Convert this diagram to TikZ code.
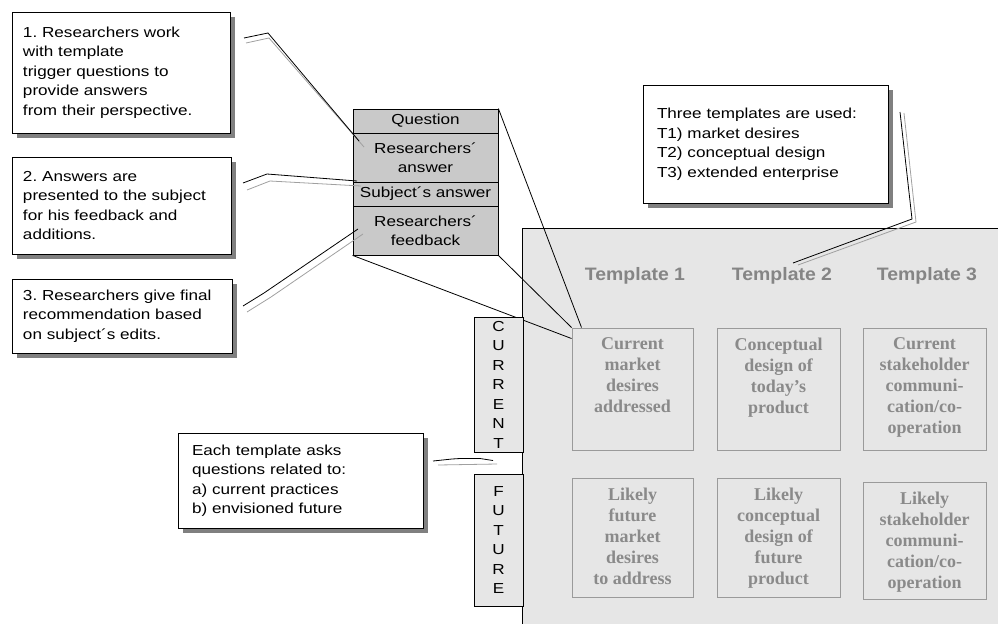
\documentclass[tikz,border=0pt]{standalone}
\usepackage{fontspec}
\setmainfont{Liberation Sans}[FakeStretch=1.18]
\newfontfamily\hdfont{Liberation Sans}[FakeStretch=1.08]
\newfontfamily\cellfont{Liberation Serif}
\usetikzlibrary{shadows}
\definecolor{areagray}{HTML}{E6E6E6}
\definecolor{stackgray}{HTML}{C9C9C9}
\definecolor{shadowgray}{HTML}{808080}
\definecolor{cellline}{HTML}{9A9A9A}
\definecolor{celltext}{HTML}{8A8A8A}
\definecolor{hdrtext}{HTML}{858585}
\definecolor{leadgray}{HTML}{A0A0A0}
\tikzset{
  callout/.style={draw, line width=0.8pt, fill=white, align=left, inner ysep=0pt,
    font={\fontsize{14.5}{19.5}\selectfont},
    drop shadow={shadow xshift=5pt, shadow yshift=-5pt, fill=shadowgray, opacity=1}},
  rowbox/.style={draw, line width=0.8pt, fill=stackgray, minimum width=145pt, inner sep=0pt,
    align=center, font={\fontsize{14.5}{19}\selectfont}},
  vbox/.style={draw, line width=0.8pt, fill=areagray, minimum width=49pt, inner sep=0pt,
    align=center, font={\fontsize{14.5}{19.5}\selectfont}},
  hdr/.style={anchor=base, inner sep=0pt, text=hdrtext, font={\hdfont\fontsize{18}{22}\selectfont\bfseries}},
  cellbox/.style={draw=cellline, line width=1pt},
  celltext/.style={anchor=north, inner sep=0pt, align=center, text=celltext,
    font={\cellfont\fontsize{18}{21}\selectfont\bfseries}},
  lead/.style={black, line width=0.8pt},
  leadg/.style={leadgray, line width=0.8pt}
}
\begin{document}
\frenchspacing
\begin{tikzpicture}[x=1pt,y=-1pt]
\useasboundingbox (0,0) rectangle (998,624);

% callout boxes
\node[callout, inner xsep=11pt, text width=196pt, minimum height=121pt] (b1) at (121,72.5)
  {1. Researchers work\\with template\\trigger questions to\\provide answers\\from their perspective.};
\node[callout, inner xsep=11pt, text width=197pt, minimum height=97pt] (b2) at (121.5,205.5)
  {2. Answers are\\presented to the subject\\for his feedback and\\additions.};
\node[callout, inner xsep=11pt, text width=198pt, minimum height=74pt] (b3) at (122,316)
  {3. Researchers give final\\recommendation based\\on subject´s edits.};
\node[callout, inner xsep=14pt, text width=217pt, minimum height=95pt] (b4) at (300.5,480.5)
  {Each template asks\\questions related to:\\a) current practices\\b) envisioned future};
\node[callout, inner xsep=14pt, text width=217pt, minimum height=118pt] (b5) at (765.5,144)
  {Three templates are used:\\T1) market desires\\T2) conceptual design\\T3) extended enterprise};

% stack
\node[rowbox, minimum height=24pt] (q) at (425.5,121) {Question};
\node[rowbox, minimum height=49pt] (ra) at (425.5,157.5) {Researchers´\\answer};
\node[rowbox, minimum height=24pt] (sa) at (425.5,194) {Subject´s answer};
\node[rowbox, minimum height=49pt] (rf) at (425.5,230.5) {Researchers´\\feedback};

% template area
\node[fill=areagray, minimum width=476pt, minimum height=396pt, inner sep=0pt, anchor=north west] (area) at (522,228) {};
\draw[line width=0.8pt] (area.north east) -- (area.north west) -- (area.south west);

% cells
\node[cellbox, minimum width=121pt, minimum height=122pt] (c1) at (632.5,389) {};
\node[cellbox, minimum width=123pt, minimum height=122pt] (c2) at (778.5,389) {};
\node[cellbox, minimum width=123pt, minimum height=122pt] (c3) at (924.5,389) {};
\node[cellbox, minimum width=121pt, minimum height=119pt] (c4) at (632.5,537.5) {};
\node[cellbox, minimum width=123pt, minimum height=119pt] (c5) at (778.5,537.5) {};
\node[cellbox, minimum width=123pt, minimum height=117pt] (c6) at (924.5,540.5) {};

\node[celltext] (c1t) at ([yshift=-10pt]c1.north) {Current\\market\\desires\\addressed};
\node[celltext] (c2t) at ([yshift=-10pt]c2.north) {Conceptual\\design of\\today’s\\product};
\node[celltext] (c3t) at ([yshift=-10pt]c3.north) {Current\\stakeholder\\communi-\\cation/co-\\operation};
\node[celltext] (c4t) at ([yshift=-10pt]c4.north) {Likely\\future\\market\\desires\\to address};
\node[celltext] (c5t) at ([yshift=-10pt]c5.north) {Likely\\conceptual\\design of\\future\\product};
\node[celltext] (c6t) at ([yshift=-10pt]c6.north) {Likely\\stakeholder\\communi-\\cation/co-\\operation};

% headers
\node[hdr] (t1) at (635,280) {Template 1};
\node[hdr] (t2) at (782,280) {Template 2};
\node[hdr] (t3) at (927,280) {Template 3};

% stack to first cell
\draw[lead] (q.north east) -- ([xshift=10pt]c1.north west);
\draw[lead] (rf.south east) -- (c1.north west);
\draw[lead] (rf.south west) -- ([yshift=-11pt]c1.north west);

% current / future
\node[vbox, minimum height=135pt] (cur) at (498.5,384.5) {C\\U\\R\\R\\E\\N\\T};
\node[vbox, minimum height=132pt] (fut) at (498.5,540) {F\\U\\T\\U\\R\\E};

% callout leaders
\coordinate (k1s) at (244,38);  \coordinate (k1m) at (268,33);  \coordinate (k1e) at (359,141);
\coordinate (g1s) at (246,43);  \coordinate (g1m) at (269,38);  \coordinate (g1e) at (364,147);
\draw[leadg] (g1s) -- (g1m) -- (g1e);
\draw[lead] (k1s) -- (k1m) -- (k1e);

\coordinate (k2s) at (243,183); \coordinate (k2m) at (267,174); \coordinate (k2e) at (357,181);
\coordinate (g2s) at (247,190); \coordinate (g2m) at (270,181); \coordinate (g2e) at (361,186);
\draw[leadg] (g2s) -- (g2m) -- (g2e);
\draw[lead] (k2s) -- (k2m) -- (k2e);

\coordinate (k3s) at (243,306); \coordinate (k3m) at (264,293); \coordinate (k3e) at (358,229);
\coordinate (g3s) at (247,312); \coordinate (g3m) at (271,297); \coordinate (g3e) at (363,234);
\draw[leadg] (g3s) -- (g3m) -- (g3e);
\draw[lead] (k3s) -- (k3m) -- (k3e);

\coordinate (k4s) at (433,461); \coordinate (k4a) at (452,459); \coordinate (k4b) at (460,458.5);
\coordinate (k4c) at (480,458.5); \coordinate (k4e) at (493,460.5);
\coordinate (g4s) at (438,465); \coordinate (g4e) at (497,464);
\draw[leadg] (g4s) -- (g4e);
\draw[lead] (k4s) -- (k4a) -- (k4b) -- (k4c) -- (k4e);

\coordinate (k5s) at (900,112); \coordinate (k5m) at (912,219); \coordinate (k5e) at (793,263);
\coordinate (g5s) at (904,113); \coordinate (g5m) at (916,222); \coordinate (g5n) at (894,230); \coordinate (g5e) at (798,265);
\draw[leadg] (g5s) -- (g5m) -- (g5n) -- (g5e);
\draw[lead] (k5s) -- (k5m) -- (k5e);
\end{tikzpicture}
\end{document}
